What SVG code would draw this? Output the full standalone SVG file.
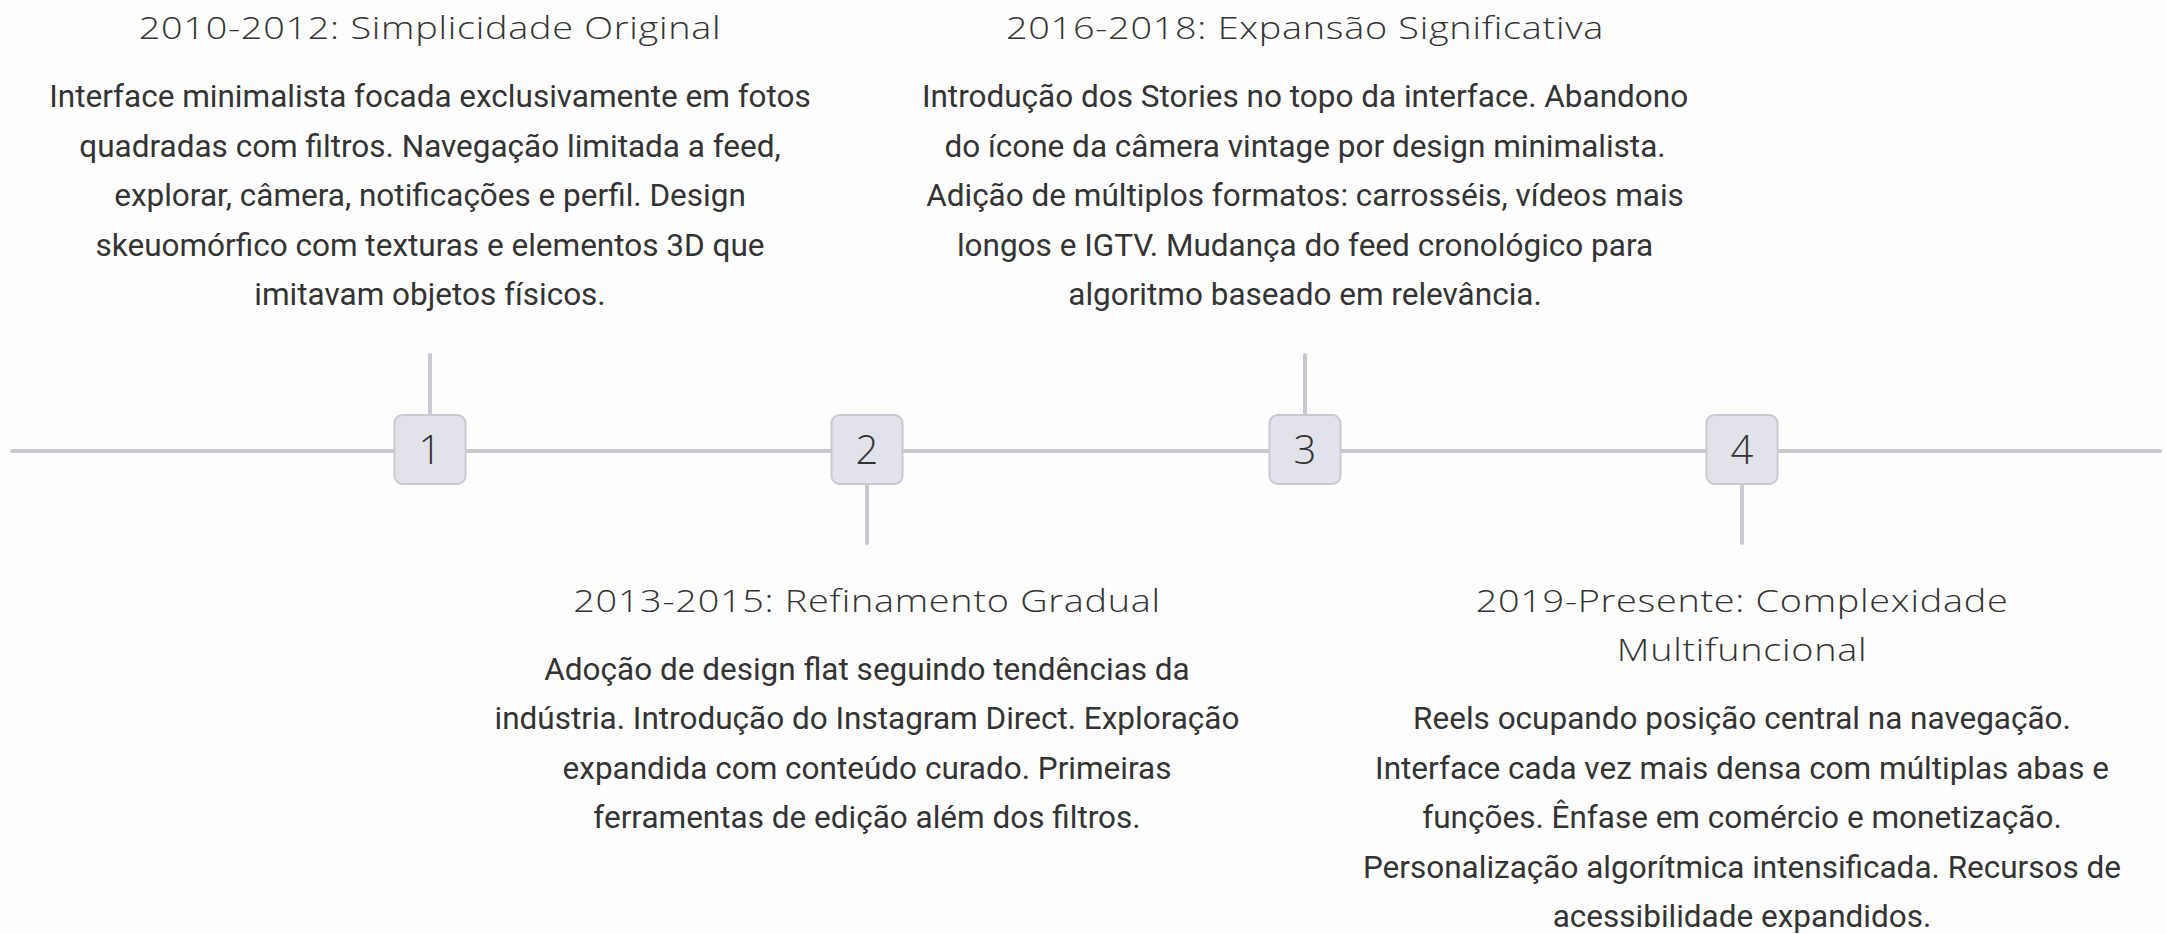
<svg xmlns="http://www.w3.org/2000/svg" width="2166" height="934" viewBox="0 0 2166 934">
<style>
.title{font-family:"Open Sans","Lato",sans-serif;font-weight:300;font-size:31px;letter-spacing:0.6px;fill:#333;text-anchor:middle}
.body{font-family:Roboto,"Liberation Sans",sans-serif;font-size:31.5px;fill:#333;text-anchor:middle}
.box{fill:#e2e2ea;stroke:#c9c9d2;stroke-width:2}
.num{font-family:"Open Sans","Lato",sans-serif;font-weight:300;font-size:40px;fill:#333;text-anchor:middle}
.line{stroke:#c8c8d0;stroke-width:4;stroke-linecap:round;fill:none}
</style>
<rect width="2166" height="934" fill="#fdfdfd"/>
<g id="connectors">
<line class="line" x1="12" y1="451" x2="2160" y2="451"/>
<line class="line" x1="430" y1="355" x2="430" y2="415"/>
<line class="line" x1="867" y1="484" x2="867" y2="543"/>
<line class="line" x1="1305" y1="355" x2="1305" y2="415"/>
<line class="line" x1="1742" y1="484" x2="1742" y2="543"/>
</g>
<g id="node1">
<rect class="box" x="394.5" y="415" width="71" height="69" rx="8"/>
<text class="num" x="430" y="464">1</text>
<text class="title" transform="translate(430 39.3) scale(1.22 1)">2010-2012: Simplicidade Original</text>
<text class="body" x="430" y="107.3">Interface minimalista focada exclusivamente em fotos</text>
<text class="body" x="430" y="156.8">quadradas com filtros. Navegação limitada a feed,</text>
<text class="body" x="430" y="206.3">explorar, câmera, notificações e perfil. Design</text>
<text class="body" x="430" y="255.8">skeuomórfico com texturas e elementos 3D que</text>
<text class="body" x="430" y="305.3">imitavam objetos físicos.</text>
</g>
<g id="node2">
<rect class="box" x="831.5" y="415" width="71" height="69" rx="8"/>
<text class="num" x="867" y="464">2</text>
<text class="title" transform="translate(867 611.7) scale(1.22 1)">2013-2015: Refinamento Gradual</text>
<text class="body" x="867" y="679.7">Adoção de design flat seguindo tendências da</text>
<text class="body" x="867" y="729.2">indústria. Introdução do Instagram Direct. Exploração</text>
<text class="body" x="867" y="778.7">expandida com conteúdo curado. Primeiras</text>
<text class="body" x="867" y="828.2">ferramentas de edição além dos filtros.</text>
</g>
<g id="node3">
<rect class="box" x="1269.5" y="415" width="71" height="69" rx="8"/>
<text class="num" x="1305" y="464">3</text>
<text class="title" transform="translate(1305 39.3) scale(1.22 1)">2016-2018: Expansão Significativa</text>
<text class="body" x="1305" y="107.3">Introdução dos Stories no topo da interface. Abandono</text>
<text class="body" x="1305" y="156.8">do ícone da câmera vintage por design minimalista.</text>
<text class="body" x="1305" y="206.3">Adição de múltiplos formatos: carrosséis, vídeos mais</text>
<text class="body" x="1305" y="255.8">longos e IGTV. Mudança do feed cronológico para</text>
<text class="body" x="1305" y="305.3">algoritmo baseado em relevância.</text>
</g>
<g id="node4">
<rect class="box" x="1706.5" y="415" width="71" height="69" rx="8"/>
<text class="num" x="1742" y="464">4</text>
<text class="title" transform="translate(1742 611.7) scale(1.22 1)">2019-Presente: Complexidade</text>
<text class="title" transform="translate(1742 661.2) scale(1.22 1)">Multifuncional</text>
<text class="body" x="1742" y="729.2">Reels ocupando posição central na navegação.</text>
<text class="body" x="1742" y="778.7">Interface cada vez mais densa com múltiplas abas e</text>
<text class="body" x="1742" y="828.2">funções. Ênfase em comércio e monetização.</text>
<text class="body" x="1742" y="877.7">Personalização algorítmica intensificada. Recursos de</text>
<text class="body" x="1742" y="927.2">acessibilidade expandidos.</text>
</g>
</svg>
